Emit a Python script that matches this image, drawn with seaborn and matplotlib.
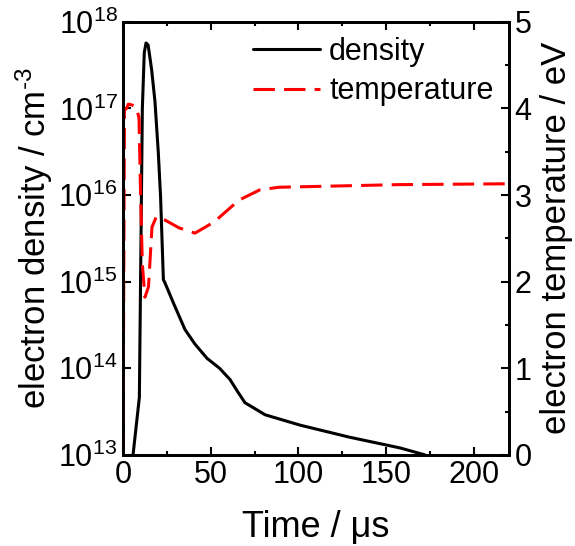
import numpy as np
import pandas as pd
import matplotlib
matplotlib.use("Agg")
import matplotlib.pyplot as plt
import seaborn as sns

# density curve (time in us, density in cm^-3)
t_dens = [5.7, 9.3, 11.0, 12.1, 13.1, 14.3, 16.3, 18.2, 20.1, 21.4, 23.0, 23.6,
          29.0, 35.3, 41.0, 47.9, 55.0, 61.0, 65.0, 69.5, 81.0, 101.0, 129.0, 158.0, 172.0]
dens = [1.0e13, 4.6e13, 1.0e17, 4.4e17, 5.7e17, 5.4e17, 2.8e17, 1.2e17, 3.1e16, 9.5e15,
        1.05e15, 1.0e15, 5.5e14, 2.8e14, 1.9e14, 1.3e14, 1.0e14, 7.4e13, 5.5e13,
        4.0e13, 2.9e13, 2.2e13, 1.6e13, 1.2e13, 1.0e13]

# temperature curve (eV)
t_temp = [0.0, 0.4, 0.8, 2.0, 3.0, 5.0, 7.5, 9.1, 10.0, 11.0, 12.5, 14.5, 16.5, 19.0,
          24.0, 32.0, 41.0, 52.0, 66.0, 78.0, 89.0, 112.0, 157.0, 220.0]
temp = [0.0, 2.0, 3.98, 4.0, 4.05, 4.04, 4.02, 3.89, 3.0, 2.2, 1.82, 1.94, 2.63, 2.75,
        2.71, 2.62, 2.56, 2.69, 2.94, 3.06, 3.09, 3.1, 3.12, 3.13]

df_d = pd.DataFrame({"t": t_dens, "n": dens})
df_t = pd.DataFrame({"t": t_temp, "T": temp})

sns.set_style("ticks")
plt.rcParams["font.family"] = ["Liberation Sans", "DejaVu Sans"]
plt.rcParams["mathtext.fontset"] = "custom"
plt.rcParams["mathtext.rm"] = "Liberation Sans"
plt.rcParams["mathtext.it"] = "Liberation Sans"
for k in ["text.color", "axes.labelcolor", "xtick.color", "ytick.color", "axes.edgecolor"]:
    plt.rcParams[k] = "black"

fig = plt.figure(figsize=(5.75, 5.46), dpi=100)
ax = fig.add_axes([0.214, 0.167, 0.671, 0.793])
ax2 = ax.twinx()

sns.lineplot(data=df_d, x="t", y="n", ax=ax, color="black", lw=2.2, label="density", legend=False)
sns.lineplot(data=df_t, x="t", y="T", ax=ax2, color="red", lw=2.2, linestyle=(0, (7, 3)),
             label="temperature", legend=False)

ax.set_yscale("log")
ax.set_ylim(1e13, 1e18)
ax.set_xlim(0, 220)
ax2.set_ylim(0, 5)

ax.set_xticks([0, 50, 100, 150, 200])
ax.set_xticks([25, 75, 125, 175], minor=True)
ax.set_yticks([1e13, 1e14, 1e15, 1e16, 1e17, 1e18])
ax.yaxis.set_minor_locator(matplotlib.ticker.NullLocator())
ax2.set_yticks([0, 1, 2, 3, 4, 5])
ax2.set_yticks([0.5, 1.5, 2.5, 3.5, 4.5], minor=True)

ax.tick_params(axis="both", which="major", direction="in", length=6, width=1.5,
               labelsize=22, top=True, pad=4)
ax.tick_params(axis="x", which="minor", direction="in", length=3, width=1.5, top=True)
ax2.tick_params(axis="y", which="major", direction="in", length=6, width=1.5, labelsize=22, pad=4)
ax2.tick_params(axis="y", which="minor", direction="in", length=3, width=1.5)

for a in (ax, ax2):
    for s in a.spines.values():
        s.set_linewidth(2)
        s.set_visible(True)

# hyphen (not minus) in the exponent, like the original
ax.set_xlabel("Time / μs", fontsize=26, labelpad=14)
ax.set_ylabel("electron density / cm$^{\u2010" + "3}$", fontsize=25, labelpad=2)
ax2.set_ylabel("electron temperature / eV", fontsize=25, labelpad=6)

h1, l1 = ax.get_legend_handles_labels()
h2, l2 = ax2.get_legend_handles_labels()
ax2.legend(h1 + h2, l1 + l2, loc="upper right", frameon=False, fontsize=22,
           handlelength=2.2, handletextpad=0.3, labelspacing=0.3, borderaxespad=0.1)

fig.savefig("out.png", dpi=100)
